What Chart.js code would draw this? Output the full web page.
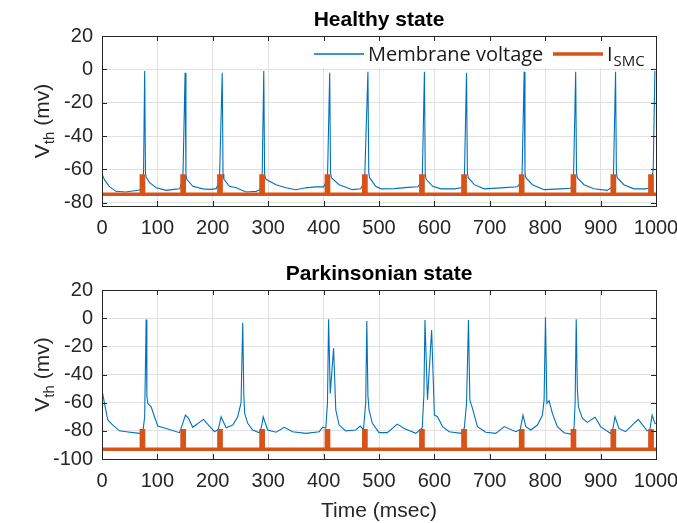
<!DOCTYPE html>
<html>
<head>
<meta charset="utf-8">
<script src="https://cdn.jsdelivr.net/npm/chart.js@4.4.0/dist/chart.umd.min.js"></script>
<style>
html, body { margin: 0; padding: 0; background: #fff; }
#wrap { position: relative; width: 677px; height: 523px; }
canvas { position: absolute; left: 0; }
#top { top: 0; }
#bottom { top: 260px; }
</style>
</head>
<body>
<div id="wrap">
  <canvas id="top" width="677" height="260"></canvas>
  <canvas id="bottom" width="677" height="263"></canvas>
</div>
<script>
// axis ticks
const xTicks = [0, 100, 200, 300, 400, 500, 600, 700, 800, 900, 1000];
const yTicksHealthy = [-80, -60, -40, -20, 0, 20];
const yTicksPark = [-100, -80, -60, -40, -20, 0, 20];

// stimulation pulses (msec), same schedule in both states
const pulseOn  = [71, 144.5, 211, 287, 405, 472.5, 575.5, 651.5, 755.5, 849, 921, 989];
const pulseOff = [75, 148.5, 215, 291, 409, 476.5, 579.5, 655.5, 759.5, 853, 925, 993];
const pulseHealthy = [-75, -64];   // [base, top]
const pulsePark = [-93, -80];

// membrane voltage, healthy state
const healthyT = [
  0, 5, 13, 25, 43, 55, 66,
  72, 75, 77, 78.5, 80, 86, 98, 116, 130, 140,
  146, 150, 151.5, 153, 164, 182, 196, 206,
  212, 217, 218.5, 220, 230, 242, 260, 278, 285,
  289, 292, 293.5, 296, 314, 332, 350, 368, 386, 400,
  407, 411, 412.5, 414, 428, 452, 467,
  474, 480, 481.5, 483, 494, 504, 528, 552, 570,
  578, 582, 583.5, 585, 597, 612, 636, 648,
  654, 658, 659.5, 661, 672, 690, 720, 750,
  758, 762, 763.5, 765, 777, 798, 828, 846,
  851, 855, 856.5, 858, 870, 888, 912, 919,
  923, 927, 928.5, 930, 942, 960, 981, 990,
  995, 998
];
const healthyV = [
  -63, -66.5, -70.2, -73.2, -73.6, -73, -72.6,
  -71.5, -62, -1, -62, -65, -68, -71, -72.6, -72, -71.7,
  -66, -2, -63, -66, -70.2, -71.7, -72, -71.6,
  -67, -2, -63, -66, -70.2, -71.1, -73.6, -73.2, -72.2,
  -66, -1, -63, -66, -69.2, -71.1, -72.2, -71.1, -70.5, -70.5,
  -66, -2, -62, -65, -69.2, -72.2, -71.7,
  -67, -1.5, -62, -65, -70.2, -71.7, -71.6, -70.8, -70.5,
  -67, -1.5, -63, -66, -70.2, -71.7, -71.7, -71.1,
  -67, -2, -62, -65, -69.2, -71.7, -71.1, -70.5,
  -67, -1.5, -62, -65, -69.2, -72.2, -71.7, -71.4,
  -67, -1.5, -62, -65, -69.2, -71.7, -72.6, -71,
  -67, -1.5, -62, -65, -69.2, -71.7, -71.7, -71,
  -60, -1
];

// membrane voltage, parkinsonian state
const parkT = [
  0, 4.5, 10.5, 19.5, 31.5, 43.6, 67.6, 74, 77,
  79.7, 81, 82.6, 88.7, 94.7, 100.7, 115.8, 139.8,
  145.8, 150.6, 156, 163.8, 183, 203,
  210, 215, 224, 236, 245, 251,
  254, 256, 257.5, 263, 272, 284,
  288, 291, 299, 314, 329, 344, 368, 392, 398, 404, 407,
  409, 412, 418, 422, 428, 440, 458, 466, 472, 476,
  478, 480, 482, 488, 500, 515, 533, 545.5, 566.6, 578, 581,
  583, 587.5, 595, 600, 605.6, 614.6, 626.7, 648, 654, 658,
  661.5, 664, 668.7, 677.7, 692.8, 711, 726, 747, 755, 760, 765, 774, 786, 795, 798,
  800.5, 803, 807, 813, 822, 834, 846, 852, 854,
  856, 858, 860, 867, 876, 890, 900, 918, 922, 926, 933, 945, 968, 984, 989, 993, 998, 1000
];
const parkV = [
  -51, -60.5, -72.3, -76, -80, -80.6, -81.8, -80, -70,
  -1, -55, -60.5, -63, -70, -76.6, -78.3, -81.3,
  -74.7, -68.8, -71, -77.5, -71.9, -80.6,
  -79, -70, -77.8, -75.9, -70, -60,
  -3.2, -55, -67.6, -74.7, -79.4, -81.3,
  -77, -70, -79.4, -81, -77.5, -80.6, -81.8, -80.6, -77.5, -78, -60,
  -0.8, -53.4, -21.4, -65.2, -75.9, -80, -79.4, -76.6, -79, -60,
  -2, -55, -65.2, -74.7, -81.3, -81.3, -75.2, -78.3, -81.8, -78, -55,
  -1.3, -58, -8.4, -68.8, -70, -77, -80.6, -81.8, -78, -60.5,
  -1.3, -58, -64, -77, -81, -81.8, -77, -80.6, -79, -68.8, -77, -79.4, -75.9, -68.8, -58,
  0.6, -60.5, -58.6, -67.6, -77, -81.3, -82.3, -78, -60,
  -0.8, -50, -63, -71, -74, -70.4, -77, -81.8, -79, -70, -78.3, -80.6, -71.9, -80, -79, -68.8, -74.7, -75
];

const BLUE = '#0072BD';
const ORANGE = '#D95319';
const AXIS = '#262626';
const TICKFONT = '"Liberation Sans", Arial, sans-serif';

function toPoints(ts, vs) {
  return ts.map((t, i) => ({ x: t, y: vs[i] }));
}

function pulseTrain(levels) {
  const pts = [{ x: 0, y: levels[0] }];
  pulseOn.forEach((on, i) => {
    pts.push({ x: on, y: levels[0] }, { x: on, y: levels[1] },
             { x: pulseOff[i], y: levels[1] }, { x: pulseOff[i], y: levels[0] });
  });
  pts.push({ x: 1000, y: levels[0] });
  return pts;
}

// box, inward ticks, titles and legend (MATLAB look)
const frame = {
  id: 'frame',
  beforeDatasetsDraw(chart, args, o) {
    if (!o.legend) return;
    const { ctx, chartArea: a } = chart;
    ctx.save();
    ctx.fillStyle = '#fff';
    ctx.fillRect(a.right - 352, a.top + 1, 351, 31);
    ctx.restore();
  },
  afterDraw(chart, args, o) {
    const { ctx, chartArea: a, scales: { x, y } } = chart;
    ctx.save();
    ctx.strokeStyle = AXIS;
    ctx.lineWidth = 1;
    ctx.beginPath();
    x.ticks.forEach(t => {
      const px = Math.round(x.getPixelForValue(t.value)) + 0.5;
      ctx.moveTo(px, a.top); ctx.lineTo(px, a.top + 5);
      ctx.moveTo(px, a.bottom); ctx.lineTo(px, a.bottom - 5);
    });
    y.ticks.forEach(t => {
      const py = Math.round(y.getPixelForValue(t.value)) + 0.5;
      ctx.moveTo(a.left, py); ctx.lineTo(a.left + 5, py);
      ctx.moveTo(a.right, py); ctx.lineTo(a.right - 5, py);
    });
    ctx.stroke();
    ctx.strokeRect(Math.round(a.left) + 0.5, Math.round(a.top) + 0.5,
                   Math.round(a.width), Math.round(a.height));

    // title
    ctx.fillStyle = '#000';
    ctx.textAlign = 'center';
    ctx.textBaseline = 'alphabetic';
    ctx.font = 'bold 21px ' + TICKFONT;
    ctx.fillText(o.title, (a.left + a.right) / 2, a.top - 10);

    // y title  V_th (mv)
    ctx.save();
    ctx.translate(42, (a.top + a.bottom) / 2);
    ctx.rotate(-Math.PI / 2);
    ctx.textAlign = 'left';
    const big = '21px ' + TICKFONT, small = '15px ' + TICKFONT;
    ctx.font = big;
    const wV = ctx.measureText('V').width, wR = ctx.measureText(' (mv)').width;
    ctx.font = small;
    const wS = ctx.measureText('th').width;
    const x0 = -(wV + wS + wR) / 2;
    ctx.fillStyle = AXIS;
    ctx.font = big; ctx.fillText('V', x0, 7);
    ctx.font = small; ctx.fillText('th', x0 + wV, 12);
    ctx.font = big; ctx.fillText(' (mv)', x0 + wV + wS, 7);
    ctx.restore();

    if (o.xTitle) {
      ctx.fillStyle = AXIS;
      ctx.textAlign = 'center';
      ctx.font = '21px ' + TICKFONT;
      ctx.fillText(o.xTitle, (a.left + a.right) / 2, a.bottom + 58);
    }

    if (o.legend) {
      const ly = a.top + 18;
      ctx.lineWidth = 1.5;
      ctx.strokeStyle = BLUE;
      ctx.beginPath(); ctx.moveTo(a.right - 342, ly); ctx.lineTo(a.right - 292, ly); ctx.stroke();
      ctx.lineWidth = 3.5;
      ctx.strokeStyle = ORANGE;
      ctx.beginPath(); ctx.moveTo(a.right - 103, ly); ctx.lineTo(a.right - 53, ly); ctx.stroke();
      ctx.fillStyle = '#1a1a1a';
      ctx.textAlign = 'left';
      ctx.font = '20px "Open Sans", sans-serif';
      ctx.fillText('Membrane voltage', a.right - 288, ly + 7);
      ctx.fillText('I', a.right - 49, ly + 7);
      const wI = ctx.measureText('I').width;
      ctx.font = '15px "Open Sans", sans-serif';
      ctx.fillText('SMC', a.right - 49 + wI + 1, ly + 12);
    }
    ctx.restore();
  }
};

function makeChart(id, volt, pulses, yTicks, yMin, padTop, xHeight, opts) {
  return new Chart(document.getElementById(id), {
    type: 'line',
    data: {
      datasets: [
        { data: pulses, borderColor: ORANGE, borderWidth: 3.5, pointRadius: 0, order: 0,
          borderJoinStyle: 'miter' },
        { data: volt, borderColor: BLUE, borderWidth: 1.1, pointRadius: 0, order: 1 }
      ]
    },
    options: {
      responsive: false,
      animation: false,
      events: [],
      layout: { padding: { top: padTop, right: 21, left: 0, bottom: 0 } },
      plugins: { legend: { display: false }, tooltip: { enabled: false }, frame: opts },
      scales: {
        x: {
          type: 'linear', min: 0, max: 1000,
          afterBuildTicks: s => { s.ticks = xTicks.map(v => ({ value: v })); },
          afterFit: s => { s.height = xHeight; s.paddingLeft = 0; s.paddingRight = 0; },
          grid: { color: '#e2e2e2', drawTicks: false },
          border: { display: false },
          ticks: { font: { size: 20, family: TICKFONT }, color: AXIS, padding: 10,
                   maxRotation: 0, autoSkip: false, callback: v => String(v) }
        },
        y: {
          type: 'linear', min: yMin, max: 20,
          afterBuildTicks: s => { s.ticks = yTicks.map(v => ({ value: v })); },
          afterFit: s => { s.width = 102; s.paddingTop = 0; s.paddingBottom = 0; },
          grid: { color: '#e2e2e2', drawTicks: false },
          border: { display: false },
          ticks: { font: { size: 20, family: TICKFONT }, color: AXIS, padding: 9,
                   callback: v => String(v) }
        }
      }
    },
    plugins: [frame]
  });
}

makeChart('top', toPoints(healthyT, healthyV), pulseTrain(pulseHealthy), yTicksHealthy, -82, 36, 54,
  { title: 'Healthy state', legend: true });
makeChart('bottom', toPoints(parkT, parkV), pulseTrain(pulsePark), yTicksPark, -100, 30, 64,
  { title: 'Parkinsonian state', legend: false, xTitle: 'Time (msec)' });
</script>
</body>
</html>
